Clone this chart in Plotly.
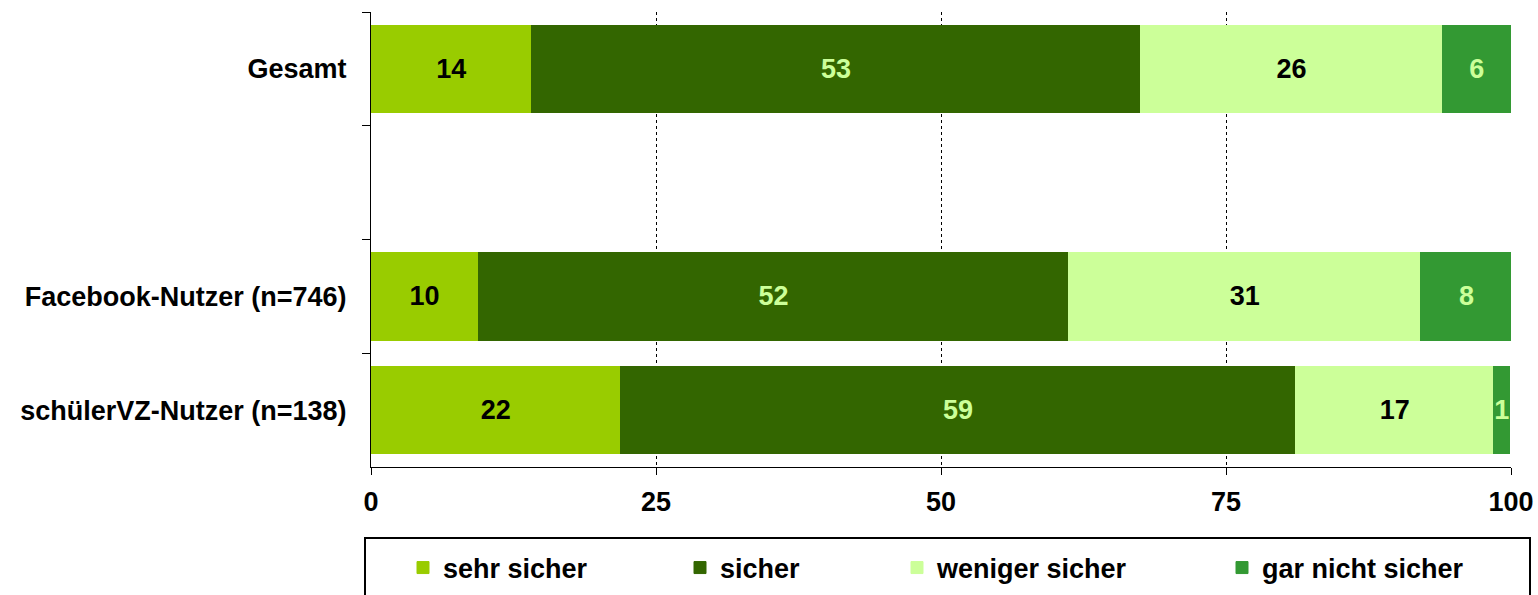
import plotly.graph_objects as go

categories = ["Gesamt", "Facebook-Nutzer (n=746)", "schülerVZ-Nutzer (n=138)"]
axis_categories = ["Gesamt", " ", "Facebook-Nutzer (n=746)", "schülerVZ-Nutzer (n=138)"]
series_names = ["sehr sicher", "sicher", "weniger sicher", "gar nicht sicher"]

sehr_sicher = [14.1, 9.4, 21.9]
sicher = [53.4, 51.8, 59.2]
weniger_sicher = [26.5, 30.9, 17.4]
gar_nicht_sicher = [6.0, 8.0, 1.4]

labels_sehr = ["14", "10", "22"]
labels_sicher = ["53", "52", "59"]
labels_weniger = ["26", "31", "17"]
labels_gar = ["6", "8", "1"]

x_ticks = [0, 25, 50, 75, 100]

colors = ["#99CC00", "#336600", "#CCFF99", "#339933"]
text_colors = ["#000000", "#CCFF99", "#000000", "#CCFF99"]

FONT = "Liberation Sans, Arial, sans-serif"
FS = 27

W, H = 1538, 595
L, R, T, B = 371, 27, 12, 128
PW = W - L - R
PH = H - T - B

def px_x(p):
    return (p - L) / PW

def px_y(p):
    return (H - B - p) / PH

fig = go.Figure()
series = [sehr_sicher, sicher, weniger_sicher, gar_nicht_sicher]
labels = [labels_sehr, labels_sicher, labels_weniger, labels_gar]
legend_ids = ["legend", "legend2", "legend3", "legend4"]
for i, name in enumerate(series_names):
    fig.add_trace(go.Bar(
        y=categories, x=series[i], name=name, orientation="h",
        marker=dict(color=colors[i], line=dict(width=1, color=colors[i])),
        text=labels[i], texttemplate="%{text}",
        textposition="inside", insidetextanchor="middle", textangle=0,
        textfont=dict(family=FONT, size=FS, color=text_colors[i], weight="bold"),
        legend=legend_ids[i],
    ))

legend_text_px = [443, 720, 937, 1262]
leg_common = dict(orientation="h", yanchor="middle", xanchor="left",
                  y=px_y(568), bgcolor="rgba(0,0,0,0)", borderwidth=0,
                  font=dict(family=FONT, size=FS, color="#000000", weight="bold"))
legend_layout = {}
for i, lid in enumerate(legend_ids):
    d = dict(leg_common)
    d["x"] = px_x(legend_text_px[i] - 40)
    legend_layout[lid] = d

fig.update_layout(
    width=W, height=H,
    margin=dict(l=L, r=R, t=T, b=B, autoexpand=False),
    barmode="stack", bargap=0.23,
    plot_bgcolor="white", paper_bgcolor="white",
    font=dict(family=FONT, size=FS, color="#000000", weight="bold"),
    uniformtext=dict(minsize=FS, mode="show"),
    showlegend=True,
    **legend_layout,
    xaxis=dict(
        range=[0, 100], tickvals=x_ticks, ticktext=[str(v) for v in x_ticks],
        showgrid=True, gridcolor="#000000", gridwidth=1, griddash="dot",
        zeroline=False, showline=True, linecolor="#000000", linewidth=1,
        ticks="outside", ticklen=7, tickcolor="#000000",
        ticklabelstandoff=4,
        tickfont=dict(family=FONT, size=FS, color="#000000", weight="bold"),
    ),
    yaxis=dict(
        type="category", categoryorder="array", categoryarray=axis_categories,
        range=[3.5, -0.5], tickson="boundaries",
        showgrid=False, zeroline=False, showline=True, linecolor="#000000", linewidth=1,
        ticks="outside", ticklen=8, tickcolor="#000000",
        ticklabelstandoff=18,
        tickfont=dict(family=FONT, size=FS, color="#000000", weight="bold"),
    ),
    shapes=[dict(type="rect", xref="paper", yref="paper",
                 x0=px_x(365), x1=px_x(1530), y0=px_y(538), y1=px_y(605),
                 line=dict(color="#000000", width=2), fillcolor="rgba(0,0,0,0)")],
)

fig.write_html(
    "out.html",
    config={"displayModeBar": False},
    post_script="document.body.style.margin='0';document.body.style.overflow='hidden';",
)
